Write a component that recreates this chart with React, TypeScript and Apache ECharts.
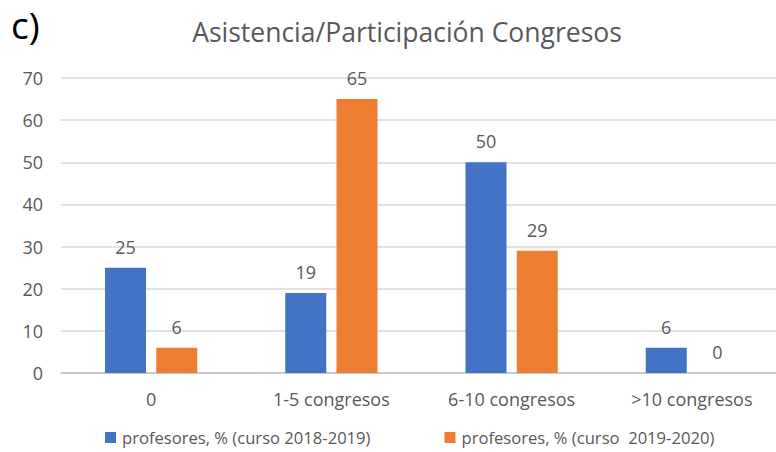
import React, { useEffect, useRef } from "react";
import * as echarts from "echarts";

const categories = ["0", "1-5 congresos", "6-10 congresos", ">10 congresos"];
const series2018 = [25, 19, 50, 6];
const series2020 = [6, 65, 29, 0];
const seriesNames = ["profesores, % (curso 2018-2019)", "profesores, % (curso  2019-2020)"];

const FONT = "'Open Sans', Lato, sans-serif";
const GREY = "#595959";

export default function App() {
  const ref = useRef<HTMLDivElement>(null);
  useEffect(() => {
    if (!ref.current) return;
    const chart = echarts.init(ref.current, undefined, { renderer: "svg" });
    const label = {
      show: true,
      position: "top",
      distance: 12,
      color: GREY,
      fontSize: 18,
      fontFamily: FONT,
    };
    chart.setOption({
      animation: false,
      backgroundColor: "#ffffff",
      graphic: [
        {
          type: "text",
          x: 11,
          y: 6,
          style: { text: "c)", fontSize: 37, fontFamily: FONT, fill: "#000000" },
        },
        {
          type: "text",
          x: 407,
          y: 18,
          style: {
            text: "Asistencia/Participación Congresos",
            fontSize: 26.5,
            fontFamily: FONT,
            fill: GREY,
            align: "center",
            verticalAlign: "top",
          },
        },
      ],
      legend: {
        bottom: 1,
        left: 100,
        itemGap: 74,
        itemWidth: 11,
        itemHeight: 11,
        icon: "rect",
        textStyle: { fontSize: 16.6, color: GREY, fontFamily: FONT, padding: [0, 0, 0, 1] },
      },
      grid: { left: 61, right: 0, top: 78, bottom: 79 },
      xAxis: {
        type: "category",
        data: categories,
        axisLine: { lineStyle: { color: "#bfbfbf", width: 1.5 } },
        axisTick: { show: false },
        axisLabel: { fontSize: 18, color: GREY, fontFamily: FONT, margin: 17 },
      },
      yAxis: {
        type: "value",
        min: 0,
        max: 70,
        interval: 10,
        axisLine: { show: false },
        axisTick: { show: false },
        axisLabel: { fontSize: 18, color: GREY, fontFamily: FONT, margin: 18 },
        splitLine: { lineStyle: { color: "#d9d9d9", width: 1.5 } },
      },
      series: [
        {
          name: seriesNames[0],
          type: "bar",
          data: series2018,
          barWidth: 41,
          barGap: "25%",
          itemStyle: { color: "#4472C4" },
          label,
        },
        {
          name: seriesNames[1],
          type: "bar",
          data: series2020,
          barWidth: 41,
          barGap: "25%",
          itemStyle: { color: "#ED7D31" },
          label,
        },
      ],
    });
    return () => chart.dispose();
  }, []);
  return (
    <div
      style={{
        position: "absolute",
        left: 0,
        top: 0,
        width: 776,
        height: 452,
        overflow: "hidden",
      }}
    >
      <div ref={ref} style={{ width: 782, height: 452 }} />
    </div>
  );
}
